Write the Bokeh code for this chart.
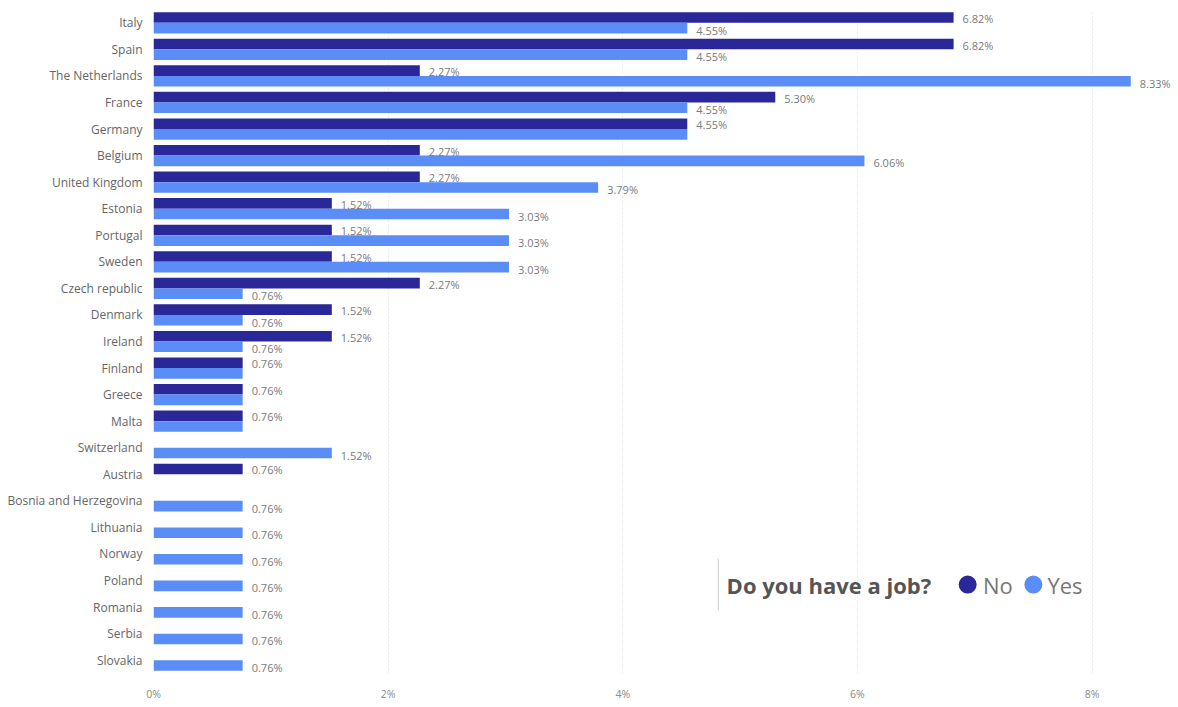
from bokeh.plotting import figure
from bokeh.models import (ColumnDataSource, Range1d, FactorRange, FixedTicker,
                          PrintfTickFormatter, Label, BoxAnnotation)
from bokeh.transform import dodge
from bokeh.embed import file_html
from bokeh.resources import INLINE
from bokeh.core.properties import value

countries = ["Italy", "Spain", "The Netherlands", "France", "Germany", "Belgium",
             "United Kingdom", "Estonia", "Portugal", "Sweden", "Czech republic",
             "Denmark", "Ireland", "Finland", "Greece", "Malta", "Switzerland",
             "Austria", "Bosnia and Herzegovina", "Lithuania", "Norway", "Poland",
             "Romania", "Serbia", "Slovakia"]
no_pct = [6.82, 6.82, 2.27, 5.30, 4.55, 2.27, 2.27, 1.52, 1.52, 1.52, 2.27, 1.52,
          1.52, 0.76, 0.76, 0.76, None, 0.76, None, None, None, None, None, None, None]
yes_pct = [4.55, 4.55, 8.33, 4.55, 4.55, 6.06, 3.79, 3.03, 3.03, 3.03, 0.76, 0.76,
           0.76, 0.76, 0.76, 0.76, 1.52, None, 0.76, 0.76, 0.76, 0.76, 0.76, 0.76, 0.76]
x_ticks = [0, 2, 4, 6, 8]

DARK = "#2A2899"
LIGHT = "#5B8DF6"
FONT = "Open Sans"

no_src = ColumnDataSource(dict(
    country=[c for c, v in zip(countries, no_pct) if v is not None],
    val=[v for v in no_pct if v is not None],
    lab=["%.2f%%" % v for v in no_pct if v is not None]))
yes_src = ColumnDataSource(dict(
    country=[c for c, v in zip(countries, yes_pct) if v is not None],
    val=[v for v in yes_pct if v is not None]))
# labels: Power BI hides the "Yes" label when it coincides with the "No" label
yes_lab_src = ColumnDataSource(dict(
    country=[c for c, v, n in zip(countries, yes_pct, no_pct) if v is not None and v != n],
    val=[v for v, n in zip(yes_pct, no_pct) if v is not None and v != n],
    lab=["%.2f%%" % v for v, n in zip(yes_pct, no_pct) if v is not None and v != n]))

p = figure(width=1178, height=707, output_backend="svg", toolbar_location=None,
           y_range=FactorRange(factors=list(reversed(countries))),
           x_range=Range1d(0, 8.72),
           min_border_left=153, min_border_right=2, min_border_top=9,
           min_border_bottom=34)
p.outline_line_color = None
p.background_fill_color = "white"

p.hbar(y=dodge("country", 0.2, range=p.y_range), right="val", left=0, height=0.4,
       source=no_src, fill_color=DARK, line_color=None)
p.hbar(y=dodge("country", -0.2, range=p.y_range), right="val", left=0, height=0.4,
       source=yes_src, fill_color=LIGHT, line_color=None)

p.text(x="val", y=dodge("country", 0.2, range=p.y_range), text="lab", source=no_src,
       x_offset=9, y_offset=1, text_baseline="middle", text_align="left",
       text_font=value(FONT), text_font_size="11px", text_color="#7a7a7a")
p.text(x="val", y=dodge("country", -0.2, range=p.y_range), text="lab", source=yes_lab_src,
       x_offset=9, y_offset=2, text_baseline="middle", text_align="left",
       text_font=value(FONT), text_font_size="11px", text_color="#7a7a7a")

# axes
p.xaxis.ticker = FixedTicker(ticks=x_ticks)
p.xaxis.formatter = PrintfTickFormatter(format="%d%%")
p.xaxis.axis_line_color = None
p.xaxis.major_tick_line_color = None
p.xaxis.minor_tick_line_color = None
p.xaxis.major_label_text_font = FONT
p.xaxis.major_label_text_font_size = "10.5px"
p.xaxis.major_label_text_color = "#8a8a8a"
p.xaxis.major_label_standoff = 7

p.yaxis.axis_line_color = None
p.yaxis.major_tick_line_color = None
p.yaxis.minor_tick_line_color = None
p.yaxis.major_label_text_font = FONT
p.yaxis.major_label_text_font_size = "12px"
p.yaxis.major_label_text_color = "#666666"
p.yaxis.major_label_standoff = 5

p.ygrid.grid_line_color = None
p.xgrid.ticker = FixedTicker(ticks=x_ticks)
p.xgrid.grid_line_color = "#d9d9d9"
p.xgrid.grid_line_dash = "1 3"
p.xgrid.grid_line_width = 1

# legend (manual, Power BI style)
p.add_layout(BoxAnnotation(left=4.81, right=4.818, bottom=2.37, top=4.32,
                           fill_color="#c8c8c8", fill_alpha=1, line_color=None))
p.add_layout(Label(x=4.885, y=3.35, text="Do you have a job?", text_font=FONT,
                   text_font_style="bold", text_font_size="22px",
                   text_color="#555555", text_baseline="middle"))
p.scatter(x=[6.94], y=[3.35], size=18, marker="circle", fill_color=DARK, line_color=None)
p.scatter(x=[7.50], y=[3.35], size=18, marker="circle", fill_color=LIGHT, line_color=None)
p.add_layout(Label(x=7.07, y=3.35, text="No", text_font=FONT, text_font_size="22px",
                   text_color="#777777", text_baseline="middle"))
p.add_layout(Label(x=7.62, y=3.35, text="Yes", text_font=FONT, text_font_size="22px",
                   text_color="#777777", text_baseline="middle"))

open("out.html", "w").write(file_html(p, INLINE))
